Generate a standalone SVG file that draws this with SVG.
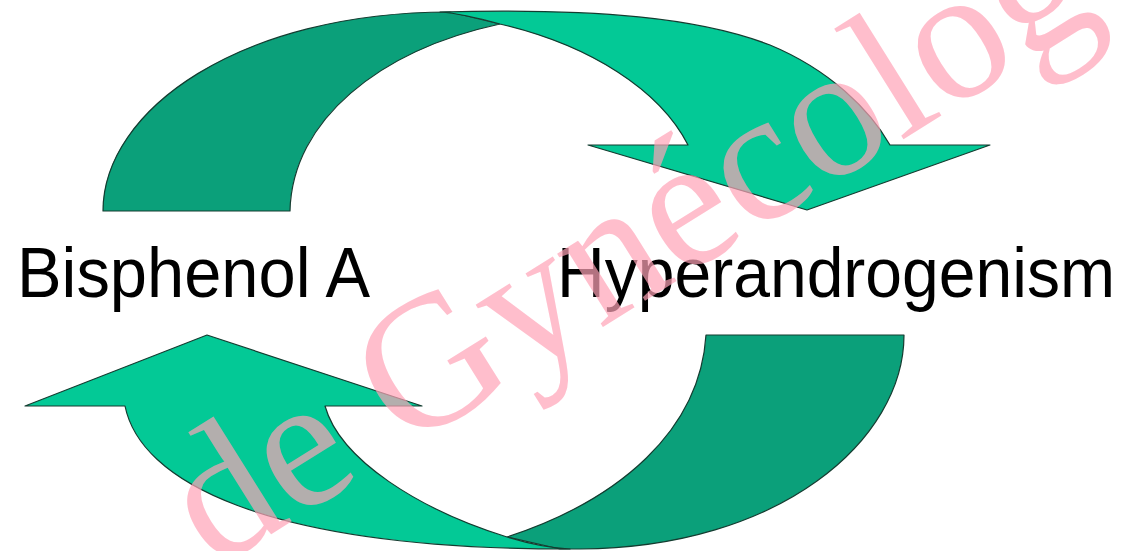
<svg xmlns="http://www.w3.org/2000/svg" width="1134" height="551" viewBox="0 0 1134 551">
  <style>
    .dark { fill: #0BA07A; stroke: #143C30; stroke-width: 1.2; stroke-linejoin: round; }
    .light { fill: #03C996; stroke: #143C30; stroke-width: 1.2; stroke-linejoin: round; }
    .label { font-family: "Liberation Sans", Arial, sans-serif; font-size: 71px; fill: #000; }
    .wm { font-family: "Liberation Serif", "Times New Roman", serif; font-size: 188px; fill: #FFA2B7; fill-opacity: 0.7; }
  </style>
  <rect width="1134" height="551" fill="#FFFFFF"/>
  <g id="connectors">
    <g id="arrow-top">
      <path class="dark" d="M103,211 C103,110 240,12 450,12 L500,24 C380,50 292,120 290,211 Z"/>
      <path class="light" d="M440,12 C600,8 700,18 770,45 C830,70 870,110 890,145 L990,145 L807,210 L588,145 L688,145 C660,90 590,45 500,24 C475,17 455,13 440,12 Z"/>
    </g>
    <g id="arrow-bottom">
      <path class="dark" d="M706,335 L904,335 C904,440 780,548 580,549 L560,549 L507,537 C620,500 700,430 706,335 Z"/>
      <path class="light" d="M25,406 L207,335 L422,406 L325,406 C340,460 420,510 507,537 C530,544 550,548 570,549 C260,549 140,480 125,406 Z"/>
    </g>
  </g>
  <g id="node-bisphenol">
    <text class="label" x="17" y="297" textLength="353" lengthAdjust="spacingAndGlyphs">Bisphenol A</text>
  </g>
  <g id="node-hyperandrogenism">
    <text class="label" x="557" y="297" textLength="558" lengthAdjust="spacingAndGlyphs">Hyperandrogenism</text>
  </g>
  <g id="watermark">
    <text class="wm" transform="translate(214,570) rotate(-32)">de Gynécolog</text>
  </g>
</svg>
